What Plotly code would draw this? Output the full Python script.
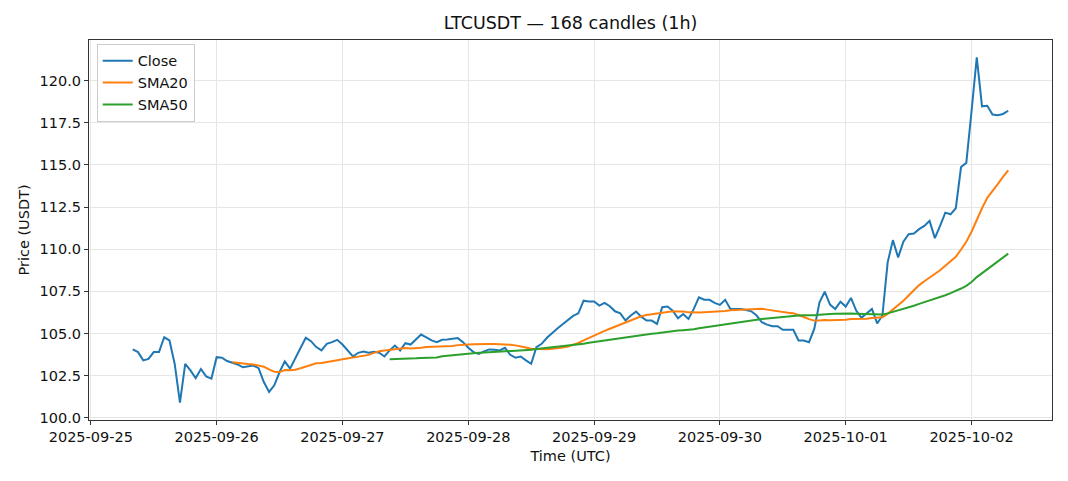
import pandas as pd
import plotly.graph_objects as go

start_time = "2025-09-25 08:00"
n_candles = 168
close = [
    104.06, 103.90, 103.41, 103.50, 103.90, 103.90, 104.78, 104.59, 103.20, 100.90,
    103.20, 102.82, 102.36, 102.90, 102.46, 102.33, 103.60, 103.57, 103.37, 103.27,
    103.17, 103.00, 103.04, 103.10, 102.95, 102.13, 101.54, 101.93, 102.72, 103.35,
    102.92, 103.50, 104.10, 104.75, 104.55, 104.20, 104.00, 104.39, 104.49, 104.63,
    104.35, 104.00, 103.64, 103.86, 103.94, 103.86, 103.92, 103.86, 103.64, 104.00,
    104.29, 104.00, 104.43, 104.35, 104.63, 104.94, 104.78, 104.60, 104.49, 104.63,
    104.65, 104.70, 104.73, 104.49, 104.16, 103.90, 103.80, 103.94, 104.06, 104.04,
    104.00, 104.16, 103.74, 103.57, 103.64, 103.41, 103.21, 104.19, 104.39, 104.75,
    105.04, 105.30, 105.55, 105.80, 106.05, 106.20, 106.95, 106.90, 106.90, 106.66,
    106.82, 106.62, 106.32, 106.20, 105.77, 106.07, 106.30, 106.00, 105.77, 105.77,
    105.57, 106.56, 106.60, 106.36, 105.91, 106.16, 105.87, 106.45, 107.15, 107.01,
    107.00, 106.82, 106.70, 107.00, 106.46, 106.46, 106.46, 106.40, 106.32, 106.07,
    105.67, 105.53, 105.44, 105.44, 105.22, 105.22, 105.22, 104.59, 104.59, 104.49,
    105.28, 106.85, 107.48, 106.72, 106.46, 106.89, 106.60, 107.11, 106.36, 105.93,
    106.20, 106.46, 105.60, 106.07, 109.22, 110.54, 109.51, 110.45, 110.89, 110.93,
    111.19, 111.38, 111.68, 110.66, 111.38, 112.17, 112.07, 112.43, 114.87, 115.12,
    118.17, 121.38, 118.47, 118.50, 117.98, 117.95, 118.02, 118.21,
]
y_ticks = [100.0, 102.5, 105.0, 107.5, 110.0, 112.5, 115.0, 117.5, 120.0]
x_ticks = ["2025-09-25", "2025-09-26", "2025-09-27", "2025-09-28", "2025-09-29",
           "2025-09-30", "2025-10-01", "2025-10-02"]

times = pd.date_range(start_time, periods=n_candles, freq="h")
s = pd.Series(close, index=times)
sma20 = s.rolling(20).mean()
sma50 = s.rolling(50).mean()

# matplotlib-like 5% margins
t0, t1 = times[0], times[-1]
pad_t = (t1 - t0) * 0.05
vals = pd.concat([s, sma20.dropna(), sma50.dropna()])
vmin, vmax = vals.min(), vals.max()
pad_v = (vmax - vmin) * 0.05

fig = go.Figure()
fig.add_trace(go.Scatter(x=times, y=s.values, mode="lines", name="Close",
                         line=dict(color="#1f77b4", width=2)))
fig.add_trace(go.Scatter(x=times, y=sma20.values, mode="lines", name="SMA20",
                         line=dict(color="#ff7f0e", width=2)))
fig.add_trace(go.Scatter(x=times, y=sma50.values, mode="lines", name="SMA50",
                         line=dict(color="#2ca02c", width=2)))

font = "DejaVu Sans"
fs = 14.5
W, H = 1060, 473
fig.update_layout(
    width=W, height=H,
    margin=dict(l=81, r=16, t=32, b=61),
    paper_bgcolor="white", plot_bgcolor="white",
    font=dict(family=font, size=fs, color="#222"),
    title=dict(text="LTCUSDT — 168 candles (1h)", x=0.5, xref="paper",
               y=1 - 15 / H, yref="container", yanchor="middle",
               font=dict(family=font, size=17.5, color="#111")),
    showlegend=True,
    legend=dict(x=0.008, y=0.99, xanchor="left", yanchor="top",
                bgcolor="rgba(255,255,255,0.8)", bordercolor="#cccccc", borderwidth=1,
                font=dict(family=font, size=fs, color="#111"),
                tracegroupgap=0),
)
fig.update_xaxes(
    type="date", range=[t0 - pad_t, t1 + pad_t],
    tickvals=x_ticks, ticktext=x_ticks,
    showgrid=True, gridcolor="#e6e6e6", gridwidth=1,
    showline=True, linecolor="#333", linewidth=1, mirror=True,
    ticks="outside", ticklen=4, tickcolor="#333",
    zeroline=False,
    title=dict(text="Time (UTC)", standoff=6, font=dict(family=font, size=fs, color="#111")),
    tickfont=dict(family=font, size=fs, color="#111"),
)
fig.update_yaxes(
    range=[vmin - pad_v, vmax + pad_v],
    tickvals=y_ticks, ticktext=[f"{v:.1f}" for v in y_ticks],
    showgrid=True, gridcolor="#e6e6e6", gridwidth=1,
    showline=True, linecolor="#333", linewidth=1, mirror=True,
    ticks="outside", ticklen=4, tickcolor="#333",
    zeroline=False,
    title=dict(text="Price (USDT)", standoff=6, font=dict(family=font, size=fs, color="#111")),
    tickfont=dict(family=font, size=fs, color="#111"),
)

fig.write_html("out.html")
